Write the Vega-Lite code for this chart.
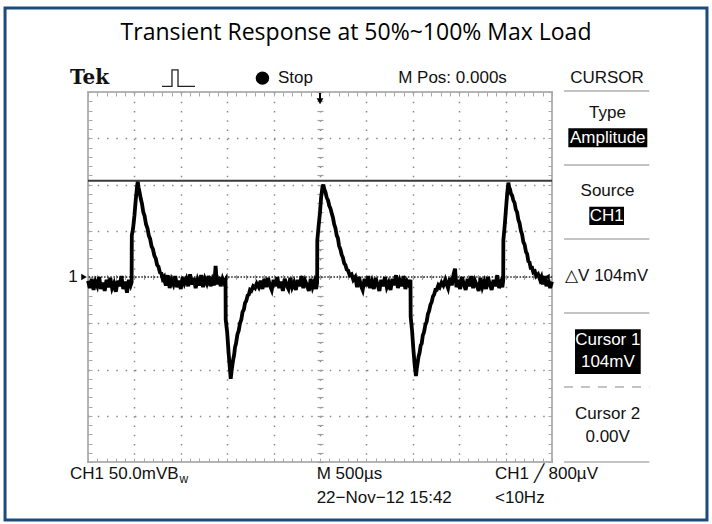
{
"$schema": "https://vega.github.io/schema/vega-lite/v6.json",
"width": 464, "height": 370,
"autosize": {"type": "none"},
"padding": {"left": 88, "top": 92, "right": 160, "bottom": 62},
"background": "white",
"config": {"view": {"stroke": "#b4b4b4", "strokeWidth": 2}, "axis": {"labels": false, "domain": false, "title": null, "grid": false, "ticks": false}},
"resolve": {"axis": {"x": "independent", "y": "independent"}},
"layer": [
{
"data": {"values": [{"name": "grid host", "t": 0, "mV": 0}]},
"mark": {"type": "point", "opacity": 0},
"encoding": {
"x": {"field": "t", "type": "quantitative", "scale": {"domain": [-2500, 2500], "nice": false, "zero": false}, "axis": {"orient": "bottom", "values": [-2000, -1500, -1000, -500, 0, 500, 1000, 1500, 2000], "grid": true, "gridDash": [1.5, 7.75], "gridColor": "#8a8a8a", "gridWidth": 1.5, "gridOpacity": 1}},
"y": {"field": "mV", "type": "quantitative", "scale": {"domain": [-200, 200], "nice": false, "zero": false}, "axis": {"orient": "left", "values": [-150, -100, -50, 0, 50, 100, 150], "grid": true, "gridDash": [1.5, 7.78], "gridColor": "#8a8a8a", "gridWidth": 1.5, "gridOpacity": 1}}
}
},
{
"data": {"values": [{"name": "border ticks", "t": 0, "mV": 0}]},
"mark": {"type": "point", "opacity": 0},
"encoding": {
"x": {"field": "t", "type": "quantitative", "scale": {"domain": [-2500, 2500], "nice": false, "zero": false}, "axis": {"orient": "bottom", "offset": -4, "tickCount": 50, "ticks": true, "tickSize": 4, "tickColor": "#a8a8a8", "tickWidth": 1}},
"y": {"field": "mV", "type": "quantitative", "scale": {"domain": [-200, 200], "nice": false, "zero": false}, "axis": {"orient": "left", "offset": -4, "tickCount": 40, "ticks": true, "tickSize": 4, "tickColor": "#a8a8a8", "tickWidth": 1}}
}
},
{
"data": {"values": [{"name": "border ticks 2", "t": 0, "mV": 0}]},
"mark": {"type": "point", "opacity": 0},
"encoding": {
"x": {"field": "t", "type": "quantitative", "scale": {"domain": [-2500, 2500], "nice": false, "zero": false}, "axis": {"orient": "top", "offset": -4, "tickCount": 50, "ticks": true, "tickSize": 4, "tickColor": "#a8a8a8", "tickWidth": 1}},
"y": {"field": "mV", "type": "quantitative", "scale": {"domain": [-200, 200], "nice": false, "zero": false}, "axis": {"orient": "right", "offset": -4, "tickCount": 40, "ticks": true, "tickSize": 4, "tickColor": "#a8a8a8", "tickWidth": 1}}
}
},
{
"data": {"values": [{"name": "center ticks", "t": 0, "mV": 0}]},
"mark": {"type": "point", "opacity": 0},
"encoding": {
"x": {"field": "t", "type": "quantitative", "scale": {"domain": [-2500, 2500], "nice": false, "zero": false}, "axis": {"orient": "bottom", "offset": -187.5, "tickCount": 50, "ticks": true, "tickSize": 5, "tickColor": "#a0a0a0", "tickWidth": 1}},
"y": {"field": "mV", "type": "quantitative", "scale": {"domain": [-200, 200], "nice": false, "zero": false}, "axis": {"orient": "left", "offset": -235, "tickCount": 40, "ticks": true, "tickSize": 6, "tickColor": "#a0a0a0", "tickWidth": 1.2}}
}
},
{
"data": {"values": [{"t": -3394, "t2": 4170, "mV": 290.8, "mV2": -262.7}]},
"mark": {"type": "rect", "fill": null, "filled": false, "stroke": "#1b4b7a", "strokeWidth": 3},
"encoding": {
"x": {"field": "t", "type": "quantitative", "scale": {"domain": [-2500, 2500], "nice": false, "zero": false}, "axis": null},
"x2": {"field": "t2"},
"y": {"field": "mV", "type": "quantitative", "scale": {"domain": [-200, 200], "nice": false, "zero": false}, "axis": null},
"y2": {"field": "mV2"}
}
},
{
"data": {"values": [{"cursor": "Cursor 1", "mV": 104}]},
"mark": {"type": "rule", "color": "#3a3a3a", "strokeWidth": 2},
"encoding": {"y": {"field": "mV", "type": "quantitative", "scale": {"domain": [-200, 200], "nice": false, "zero": false}, "axis": null}}
},
{
"data": {"values": [{"cursor": "Cursor 2", "mV": 0}]},
"mark": {"type": "rule", "color": "#222", "strokeWidth": 1.5, "strokeDash": [1.5, 1.6]},
"encoding": {"y": {"field": "mV", "type": "quantitative", "scale": {"domain": [-200, 200], "nice": false, "zero": false}, "axis": null}}
},
{
"data": {"values": [
{"t":-2500,"mV":-4},{"t":-2480,"mV":-12},{"t":-2460,"mV":-2},{"t":-2440,"mV":-14},{"t":-2420,"mV":-5},{"t":-2400,"mV":-10},{"t":-2380,"mV":0},{"t":-2360,"mV":-13},{"t":-2340,"mV":-6},{"t":-2320,"mV":-15},{"t":-2300,"mV":-3},{"t":-2280,"mV":-11},{"t":-2260,"mV":-1},{"t":-2240,"mV":-12},{"t":-2220,"mV":-7},{"t":-2200,"mV":-16},{"t":-2180,"mV":-4},{"t":-2160,"mV":-10},{"t":-2140,"mV":1},{"t":-2120,"mV":-13},{"t":-2100,"mV":-5},{"t":-2080,"mV":-17},{"t":-2060,"mV":-3},{"t":-2040,"mV":-9},
{"t":-2030,"mV":-6},{"t":-2028,"mV":45},{"t":-2015,"mV":52},{"t":-2000,"mV":66},{"t":-1985,"mV":84},{"t":-1972,"mV":97},{"t":-1964,"mV":103},{"t":-1955,"mV":97},{"t":-1945,"mV":92},{"t":-1930,"mV":84},{"t":-1918,"mV":79},{"t":-1904,"mV":70},{"t":-1890,"mV":66},{"t":-1875,"mV":57},{"t":-1860,"mV":53},{"t":-1845,"mV":45},{"t":-1830,"mV":41},{"t":-1815,"mV":33},{"t":-1800,"mV":30},{"t":-1785,"mV":23},{"t":-1770,"mV":20},{"t":-1755,"mV":13},{"t":-1740,"mV":11},{"t":-1725,"mV":5},{"t":-1710,"mV":4},{"t":-1695,"mV":-2},{"t":-1680,"mV":0},{"t":-1670,"mV":-6},
{"t":-1660,"mV":-9},{"t":-1640,"mV":2},{"t":-1620,"mV":-12},{"t":-1600,"mV":-3},{"t":-1580,"mV":-8},{"t":-1560,"mV":1},{"t":-1540,"mV":-11},{"t":-1520,"mV":-4},{"t":-1500,"mV":-13},{"t":-1480,"mV":0},{"t":-1460,"mV":-7},{"t":-1440,"mV":-2},{"t":-1420,"mV":-10},{"t":-1400,"mV":3},{"t":-1380,"mV":-8},{"t":-1360,"mV":-1},{"t":-1340,"mV":-12},{"t":-1320,"mV":-3},{"t":-1300,"mV":-9},{"t":-1280,"mV":2},{"t":-1260,"mV":-11},{"t":-1240,"mV":-2},{"t":-1220,"mV":-7},{"t":-1200,"mV":1},{"t":-1180,"mV":-10},{"t":-1160,"mV":-3},{"t":-1140,"mV":-9},{"t":-1125,"mV":12},{"t":-1110,"mV":-8},{"t":-1090,"mV":0},{"t":-1070,"mV":-10},{"t":-1050,"mV":-2},{"t":-1035,"mV":-6},{"t":-1018,"mV":-3},
{"t":-1016,"mV":-46},{"t":-1000,"mV":-60},{"t":-985,"mV":-82},{"t":-972,"mV":-98},{"t":-962,"mV":-110},{"t":-953,"mV":-102},{"t":-945,"mV":-96},{"t":-935,"mV":-89},{"t":-925,"mV":-84},{"t":-916,"mV":-76},{"t":-905,"mV":-72},{"t":-890,"mV":-62},{"t":-876,"mV":-58},{"t":-862,"mV":-50},{"t":-848,"mV":-46},{"t":-835,"mV":-38},{"t":-820,"mV":-35},{"t":-808,"mV":-28},{"t":-795,"mV":-26},{"t":-780,"mV":-20},{"t":-767,"mV":-19},{"t":-754,"mV":-14},{"t":-740,"mV":-15},{"t":-720,"mV":-10},{"t":-700,"mV":-12},{"t":-682,"mV":-7},{"t":-660,"mV":-11},{"t":-640,"mV":-4},
{"t":-620,"mV":-13},{"t":-600,"mV":-2},{"t":-580,"mV":-11},{"t":-560,"mV":-1},{"t":-540,"mV":-9},{"t":-520,"mV":-14},{"t":-500,"mV":-3},{"t":-480,"mV":-10},{"t":-460,"mV":0},{"t":-440,"mV":-12},{"t":-420,"mV":-5},{"t":-400,"mV":-15},{"t":-380,"mV":-2},{"t":-360,"mV":-9},{"t":-340,"mV":-13},{"t":-320,"mV":-1},{"t":-300,"mV":-11},{"t":-280,"mV":-6},{"t":-260,"mV":-14},{"t":-240,"mV":-3},{"t":-220,"mV":-10},{"t":-200,"mV":1},{"t":-180,"mV":-12},{"t":-160,"mV":-4},{"t":-140,"mV":-9},{"t":-120,"mV":-15},{"t":-100,"mV":-2},{"t":-80,"mV":-11},{"t":-60,"mV":-5},{"t":-42,"mV":-13},{"t":-31,"mV":-6},
{"t":-29,"mV":40},{"t":-15,"mV":55},{"t":0,"mV":70},{"t":12,"mV":86},{"t":25,"mV":96},{"t":36,"mV":100},{"t":46,"mV":95},{"t":58,"mV":92},{"t":72,"mV":86},{"t":86,"mV":83},{"t":100,"mV":77},{"t":113,"mV":74},{"t":126,"mV":69},{"t":140,"mV":64},{"t":153,"mV":57},{"t":166,"mV":53},{"t":180,"mV":45},{"t":193,"mV":42},{"t":205,"mV":34},{"t":220,"mV":30},{"t":234,"mV":24},{"t":247,"mV":21},{"t":260,"mV":15},{"t":274,"mV":13},{"t":288,"mV":8},{"t":303,"mV":7},{"t":320,"mV":2},{"t":340,"mV":3},{"t":359,"mV":-3},{"t":380,"mV":0},
{"t":400,"mV":-11},{"t":420,"mV":0},{"t":440,"mV":-9},{"t":460,"mV":-14},{"t":480,"mV":-2},{"t":500,"mV":-10},{"t":520,"mV":1},{"t":540,"mV":-12},{"t":560,"mV":-5},{"t":580,"mV":-13},{"t":600,"mV":-1},{"t":620,"mV":-8},{"t":640,"mV":-15},{"t":660,"mV":-3},{"t":680,"mV":-10},{"t":700,"mV":0},{"t":720,"mV":-11},{"t":740,"mV":-6},{"t":760,"mV":-14},{"t":780,"mV":-2},{"t":800,"mV":-9},{"t":820,"mV":2},{"t":840,"mV":-12},{"t":860,"mV":-4},{"t":880,"mV":-10},{"t":900,"mV":1},{"t":920,"mV":-13},{"t":940,"mV":-5},{"t":960,"mV":-9},{"t":975,"mV":-3},
{"t":977,"mV":-43},{"t":992,"mV":-58},{"t":1006,"mV":-78},{"t":1020,"mV":-95},{"t":1034,"mV":-107},{"t":1043,"mV":-99},{"t":1052,"mV":-93},{"t":1062,"mV":-86},{"t":1073,"mV":-82},{"t":1085,"mV":-74},{"t":1096,"mV":-72},{"t":1108,"mV":-63},{"t":1120,"mV":-60},{"t":1135,"mV":-52},{"t":1150,"mV":-48},{"t":1163,"mV":-40},{"t":1175,"mV":-37},{"t":1190,"mV":-30},{"t":1204,"mV":-27},{"t":1217,"mV":-21},{"t":1230,"mV":-19},{"t":1244,"mV":-14},{"t":1258,"mV":-14},{"t":1275,"mV":-9},{"t":1290,"mV":-11},{"t":1310,"mV":-6},{"t":1329,"mV":-9},{"t":1350,"mV":-3},{"t":1365,"mV":-8},
{"t":1380,"mV":-12},{"t":1400,"mV":-1},{"t":1420,"mV":-9},{"t":1440,"mV":3},{"t":1455,"mV":9},{"t":1470,"mV":-11},{"t":1490,"mV":-3},{"t":1510,"mV":-13},{"t":1530,"mV":0},{"t":1550,"mV":-8},{"t":1570,"mV":-14},{"t":1590,"mV":-2},{"t":1610,"mV":-10},{"t":1630,"mV":1},{"t":1650,"mV":-12},{"t":1670,"mV":-4},{"t":1690,"mV":-9},{"t":1710,"mV":-15},{"t":1730,"mV":-1},{"t":1750,"mV":-11},{"t":1770,"mV":-5},{"t":1790,"mV":-13},{"t":1810,"mV":0},{"t":1830,"mV":-8},{"t":1850,"mV":-14},{"t":1870,"mV":-3},{"t":1890,"mV":-10},{"t":1910,"mV":2},{"t":1930,"mV":-12},{"t":1950,"mV":-6},{"t":1965,"mV":-11},{"t":1974,"mV":-4},
{"t":1976,"mV":40},{"t":1990,"mV":55},{"t":2003,"mV":72},{"t":2017,"mV":90},{"t":2030,"mV":102},{"t":2038,"mV":97},{"t":2047,"mV":95},{"t":2058,"mV":90},{"t":2070,"mV":88},{"t":2083,"mV":83},{"t":2097,"mV":80},{"t":2110,"mV":73},{"t":2124,"mV":70},{"t":2137,"mV":62},{"t":2151,"mV":58},{"t":2165,"mV":50},{"t":2178,"mV":46},{"t":2191,"mV":38},{"t":2205,"mV":35},{"t":2220,"mV":27},{"t":2232,"mV":25},{"t":2245,"mV":17},{"t":2258,"mV":16},{"t":2270,"mV":10},{"t":2285,"mV":10},{"t":2299,"mV":5},{"t":2315,"mV":6},{"t":2330,"mV":1},{"t":2350,"mV":3},{"t":2371,"mV":-3},{"t":2385,"mV":0},{"t":2400,"mV":-8},{"t":2420,"mV":1},{"t":2440,"mV":-10},{"t":2460,"mV":-3},{"t":2480,"mV":-12},{"t":2500,"mV":-5}
]},
"mark": {"type": "line", "color": "#000", "strokeWidth": 3.8, "strokeJoin": "miter"},
"encoding": {
"x": {"field": "t", "type": "quantitative", "scale": {"domain": [-2500, 2500], "nice": false, "zero": false}, "axis": null},
"y": {"field": "mV", "type": "quantitative", "scale": {"domain": [-200, 200], "nice": false, "zero": false}, "axis": null}
}
},
{
"data": {"values": [{"t": 2629, "t2": 3549, "mV": 201}, {"t": 2629, "t2": 3549, "mV": 121}, {"t": 2629, "t2": 3549, "mV": 41}, {"t": 2629, "t2": 3549, "mV": -39}, {"t": 2629, "t2": 3549, "mV": -200}]},
"mark": {"type": "rule", "color": "#c4c4c4", "strokeWidth": 2},
"encoding": {
"x": {"field": "t", "type": "quantitative", "scale": {"domain": [-2500, 2500], "nice": false, "zero": false}, "axis": null},
"x2": {"field": "t2"},
"y": {"field": "mV", "type": "quantitative", "scale": {"domain": [-200, 200], "nice": false, "zero": false}, "axis": null}
}
},
{
"data": {"values": [{"t": 2629, "t2": 3549, "mV": -119}]},
"mark": {"type": "rule", "color": "#c4c4c4", "strokeWidth": 2, "strokeDash": [9, 8]},
"encoding": {
"x": {"field": "t", "type": "quantitative", "scale": {"domain": [-2500, 2500], "nice": false, "zero": false}, "axis": null},
"x2": {"field": "t2"},
"y": {"field": "mV", "type": "quantitative", "scale": {"domain": [-200, 200], "nice": false, "zero": false}, "axis": null}
}
},
{
"data": {"values": [
{"box": "Amplitude", "t": 2676, "t2": 3527, "mV": 160.8, "mV2": 140.2},
{"box": "CH1", "t": 2902, "t2": 3276, "mV": 76, "mV2": 56.2},
{"box": "Cursor 1", "t": 2748, "t2": 3456, "mV": -56.5, "mV2": -104.9}
]},
"mark": {"type": "rect", "color": "#000"},
"encoding": {
"x": {"field": "t", "type": "quantitative", "scale": {"domain": [-2500, 2500], "nice": false, "zero": false}, "axis": null},
"x2": {"field": "t2"},
"y": {"field": "mV", "type": "quantitative", "scale": {"domain": [-200, 200], "nice": false, "zero": false}, "axis": null},
"y2": {"field": "mV2"}
}
},
{
"data": {"values": [
{"label": "Amplitude", "t": 3101, "mV": 150.8},
{"label": "CH1", "t": 3089, "mV": 66},
{"label": "Cursor 1", "t": 3102, "mV": -68.4},
{"label": "104mV", "t": 3102, "mV": -91.5}
]},
"mark": {"type": "text", "color": "#fff", "font": "Liberation Sans", "fontSize": 17, "align": "center", "baseline": "middle"},
"encoding": {
"x": {"field": "t", "type": "quantitative", "scale": {"domain": [-2500, 2500], "nice": false, "zero": false}, "axis": null},
"y": {"field": "mV", "type": "quantitative", "scale": {"domain": [-200, 200], "nice": false, "zero": false}, "axis": null},
"text": {"field": "label"}
}
},
{
"data": {"values": [
{"label": "M Pos: 0.000s", "t": 1428, "mV": 215},
{"label": "CURSOR", "t": 3093, "mV": 215},
{"label": "Type", "t": 3098, "mV": 176.8},
{"label": "Source", "t": 3098, "mV": 93.2},
{"label": "△V 104mV", "t": 3088, "mV": 1.1},
{"label": "Cursor 2", "t": 3100, "mV": -148.3},
{"label": "0.00V", "t": 3100, "mV": -172.6},
{"label": "1", "t": -2662, "mV": 0}
]},
"mark": {"type": "text", "color": "#111", "font": "Liberation Sans", "fontSize": 17, "align": "center", "baseline": "middle"},
"encoding": {
"x": {"field": "t", "type": "quantitative", "scale": {"domain": [-2500, 2500], "nice": false, "zero": false}, "axis": null},
"y": {"field": "mV", "type": "quantitative", "scale": {"domain": [-200, 200], "nice": false, "zero": false}, "axis": null},
"text": {"field": "label"}
}
},
{
"data": {"values": [
{"label": "Stop", "t": -453, "mV": 215},
{"label": "CH1 50.0mVB", "t": -2694, "mV": -212.6},
{"label": "M 500µs", "t": -36, "mV": -212.6},
{"label": "22−Nov−12 15:42", "t": -36, "mV": -239.3},
{"label": "CH1 ╱ 800µV", "t": 1886, "mV": -212.6},
{"label": "<10Hz", "t": 1886, "mV": -239.3}
]},
"mark": {"type": "text", "color": "#111", "font": "Liberation Sans", "fontSize": 17, "align": "left", "baseline": "middle"},
"encoding": {
"x": {"field": "t", "type": "quantitative", "scale": {"domain": [-2500, 2500], "nice": false, "zero": false}, "axis": null},
"y": {"field": "mV", "type": "quantitative", "scale": {"domain": [-200, 200], "nice": false, "zero": false}, "axis": null},
"text": {"field": "label"}
}
},
{
"data": {"values": [{"label": "w", "t": -1515, "mV": -218.5}]},
"mark": {"type": "text", "color": "#111", "font": "Liberation Sans", "fontSize": 12, "align": "left", "baseline": "middle"},
"encoding": {
"x": {"field": "t", "type": "quantitative", "scale": {"domain": [-2500, 2500], "nice": false, "zero": false}, "axis": null},
"y": {"field": "mV", "type": "quantitative", "scale": {"domain": [-200, 200], "nice": false, "zero": false}, "axis": null},
"text": {"field": "label"}
}
},
{
"data": {"values": [{"label": "Tek", "t": -2694, "mV": 215}]},
"mark": {"type": "text", "color": "#111", "font": "DejaVu Serif", "fontWeight": "bold", "fontSize": 20, "align": "left", "baseline": "middle"},
"encoding": {
"x": {"field": "t", "type": "quantitative", "scale": {"domain": [-2500, 2500], "nice": false, "zero": false}, "axis": null},
"y": {"field": "mV", "type": "quantitative", "scale": {"domain": [-200, 200], "nice": false, "zero": false}, "axis": null},
"text": {"field": "label"}
}
},
{
"data": {"values": [{"label": "Transient Response at 50%~100% Max Load", "t": 388, "mV": 263.8}]},
"mark": {"type": "text", "color": "#000", "font": "Open Sans", "fontSize": 23, "align": "center", "baseline": "middle"},
"encoding": {
"x": {"field": "t", "type": "quantitative", "scale": {"domain": [-2500, 2500], "nice": false, "zero": false}, "axis": null},
"y": {"field": "mV", "type": "quantitative", "scale": {"domain": [-200, 200], "nice": false, "zero": false}, "axis": null},
"text": {"field": "label"}
}
},
{
"data": {"values": [{"t": -1703, "mV": 206}, {"t": -1595, "mV": 206}, {"t": -1595, "mV": 224}, {"t": -1530, "mV": 224}, {"t": -1530, "mV": 206}, {"t": -1347, "mV": 206}]},
"mark": {"type": "line", "color": "#222", "strokeWidth": 1.3, "strokeJoin": "miter"},
"encoding": {
"x": {"field": "t", "type": "quantitative", "scale": {"domain": [-2500, 2500], "nice": false, "zero": false}, "axis": null},
"y": {"field": "mV", "type": "quantitative", "scale": {"domain": [-200, 200], "nice": false, "zero": false}, "axis": null},
"order": {"value": 0}
}
},
{
"data": {"values": [{"marker": "Stop", "t": -620, "mV": 215}]},
"mark": {"type": "point", "shape": "circle", "filled": true, "color": "#000", "size": 180, "opacity": 1},
"encoding": {
"x": {"field": "t", "type": "quantitative", "scale": {"domain": [-2500, 2500], "nice": false, "zero": false}, "axis": null},
"y": {"field": "mV", "type": "quantitative", "scale": {"domain": [-200, 200], "nice": false, "zero": false}, "axis": null}
}
},
{
"data": {"values": [{"marker": "ground", "t": -2543, "mV": 0}]},
"mark": {"type": "point", "shape": "triangle-right", "filled": true, "color": "#000", "size": 40, "opacity": 1},
"encoding": {
"x": {"field": "t", "type": "quantitative", "scale": {"domain": [-2500, 2500], "nice": false, "zero": false}, "axis": null},
"y": {"field": "mV", "type": "quantitative", "scale": {"domain": [-200, 200], "nice": false, "zero": false}, "axis": null}
}
},
{
"data": {"values": [{"marker": "trigger level", "t": 2446, "mV": 0}]},
"mark": {"type": "point", "shape": "triangle-left", "filled": true, "color": "#000", "size": 40, "opacity": 1},
"encoding": {
"x": {"field": "t", "type": "quantitative", "scale": {"domain": [-2500, 2500], "nice": false, "zero": false}, "axis": null},
"y": {"field": "mV", "type": "quantitative", "scale": {"domain": [-200, 200], "nice": false, "zero": false}, "axis": null}
}
},
{
"data": {"values": [{"marker": "trigger position", "t": 0, "mV": 199, "mV2": 192}]},
"mark": {"type": "rule", "color": "#000", "strokeWidth": 2},
"encoding": {
"x": {"field": "t", "type": "quantitative", "scale": {"domain": [-2500, 2500], "nice": false, "zero": false}, "axis": null},
"y": {"field": "mV", "type": "quantitative", "scale": {"domain": [-200, 200], "nice": false, "zero": false}, "axis": null},
"y2": {"field": "mV2"}
}
},
{
"data": {"values": [{"marker": "trigger position", "t": 0, "mV": 190}]},
"mark": {"type": "point", "shape": "triangle-down", "filled": true, "color": "#000", "size": 45, "opacity": 1},
"encoding": {
"x": {"field": "t", "type": "quantitative", "scale": {"domain": [-2500, 2500], "nice": false, "zero": false}, "axis": null},
"y": {"field": "mV", "type": "quantitative", "scale": {"domain": [-200, 200], "nice": false, "zero": false}, "axis": null}
}
}
]
}
